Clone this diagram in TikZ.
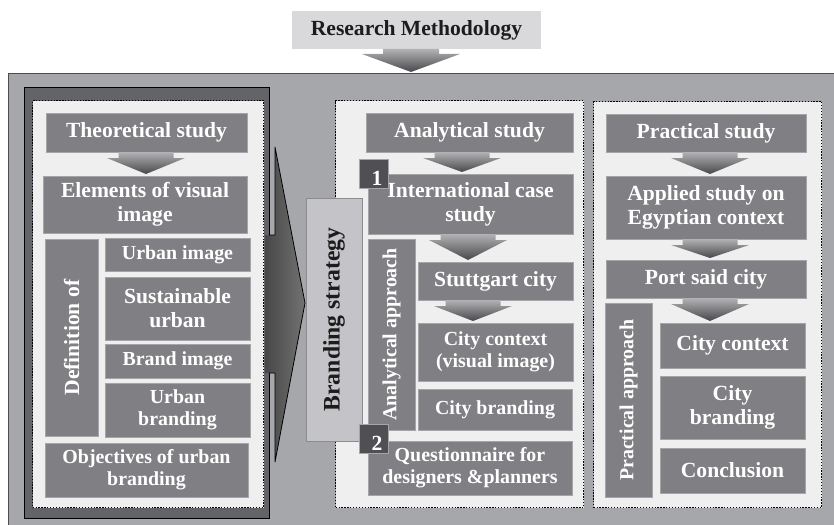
\documentclass[tikz,border=0pt]{standalone}
\usepackage{fontspec}
\setmainfont{Liberation Serif}
\usetikzlibrary{calc}
\definecolor{outerfill}{RGB}{166,167,171}
\definecolor{framefill}{RGB}{100,100,104}
\definecolor{panelfill}{RGB}{239,239,239}
\definecolor{boxfill}{RGB}{128,128,132}
\definecolor{boxline}{RGB}{165,165,168}
\definecolor{brandfill}{RGB}{196,196,200}
\definecolor{brandline}{RGB}{140,140,144}
\definecolor{titlefill}{RGB}{217,217,219}
\definecolor{darktext}{RGB}{28,28,28}
\definecolor{badgefill}{RGB}{80,80,84}
\definecolor{arrtop}{RGB}{178,178,180}
\definecolor{arrbot}{RGB}{72,72,76}
\newcommand\fsA{\fontsize{21.6}{23.8}\selectfont}
\newcommand\fsB{\fontsize{19.9}{21.9}\selectfont}
\newcommand\fsC{\fontsize{23.7}{26}\selectfont}
% box: [style]{name}{x1}{y1}{x2}{y2}{text}
\newcommand\bx[7][]{\node[box,#1,anchor=north west,minimum width={#5pt-#3pt},minimum height={#6pt-#4pt}] (#2) at (#3,#4) {#7};}
% block down arrow: {from}{to}{cx}{body half}{head half}{body height}
\newcommand\darr[6]{\shade[top color=arrtop,bottom color=arrbot]
  let \p1=(#1.south), \p2=(#2.north) in
  ({#3-#4},{\y1}) -- ({#3+#4},{\y1}) -- ({#3+#4},{\y1-#6pt}) -- ({#3+#5},{\y1-#6pt})
  -- ({#3},{\y2+2pt}) -- ({#3-#5},{\y1-#6pt}) -- ({#3-#4},{\y1-#6pt}) -- cycle;}
\begin{document}
\begin{tikzpicture}[x=1pt,y=-1pt,
  box/.style={draw=boxline,fill=boxfill,line width=0.6pt,text=white,font=\bfseries\fsA,align=center,inner sep=0pt,outer sep=0pt},
  boxs/.style={font=\bfseries\fsB},
  rotlab/.style={rotate=90,text=white,font=\bfseries\fsA,inner sep=0pt},
  panel/.style={fill=panelfill,draw=black,line width=1.3pt,dash pattern=on 1.3pt off 1.6pt},
  badge/.style={fill=badgefill,draw=boxline,line width=0.5pt,anchor=north west,minimum width=29pt,minimum height=29pt,inner sep=0pt},
  badgelab/.style={text=white,font=\bfseries\fsA,inner sep=0pt}]
\useasboundingbox (0,0) rectangle (834,524);
\clip (0,0) rectangle (834,524);
\fill[white] (0,0) rectangle (834,524);
% title
\bx[fill=titlefill,draw=none,text=darktext]{tt}{292}{11}{541}{49}{Research Methodology}
% outer panel
\node[fill=outerfill,draw=black!70,line width=1pt,anchor=north west,minimum width=900pt,minimum height=520pt,inner sep=0pt,outer sep=0pt] (outer) at (8,74) {};
\darr{tt}{outer}{411}{28}{49}{5}
% dark frame
\node[fill=framefill,draw=black,line width=1pt,anchor=north west,minimum width=245pt,minimum height=430pt,inner sep=0pt,outer sep=0pt] (frame) at (24,88) {};
% big right arrow
\shade[left color=black!72,right color=black!55] (265,235) -- (275,235) -- (275,147) -- (305,303) -- (275,462) -- (275,373) -- (265,373) -- cycle;
\draw[line width=0.8pt,line join=miter] (269,235) -- (275,235) -- (275,147) -- (305,303) -- (275,462) -- (275,373) -- (269,373);
% dotted panels
\node[panel,anchor=north west,minimum width=231pt,minimum height=407pt,inner sep=0pt] (pT) at (32,100) {};
\node[panel,anchor=north west,minimum width=248pt,minimum height=407pt,inner sep=0pt] (pA) at (335,100) {};
\node[panel,anchor=north west,minimum width=228pt,minimum height=406pt,inner sep=0pt] (pP) at (593,101) {};
% theoretical column
\bx{th}{46}{113}{247}{152}{Theoretical study}
\bx{el}{43}{176}{247}{233}{Elements of visual\\image}
\bx{def}{45}{239}{98}{436}{}
\node[rotlab] (defT) at (def.center) {Definition of};
\bx[boxs]{ui}{105}{238}{250}{271}{Urban image}
\bx{su}{105}{277}{250}{340}{Sustainable\\urban}
\bx[boxs]{bi}{105}{344}{250}{378}{Brand image}
\bx[boxs]{ub}{105}{383}{250}{437}{Urban\\branding}
\bx[boxs]{ob}{45}{443}{248}{497}{Objectives of urban\\branding}
% analytical column
\bx{an}{366}{113}{573}{152}{Analytical study}
\bx{ic}{368}{174}{573}{234}{International case\\study}
\bx{aa}{368}{239}{415}{430}{}
\node[rotlab,font=\bfseries\fsB] (aaT) at (aa.center) {Analytical approach};
\bx{st}{418}{262}{573}{300}{Stuttgart city}
\bx[boxs]{cc}{418}{323}{573}{381}{City context\\(visual image)}
\bx[boxs]{cb}{418}{389}{572}{430}{City branding}
\bx[boxs]{qu}{368}{441}{572}{495}{Questionnaire for\\designers \&planners}
% practical column
\bx{pr}{606}{114}{806}{152}{Practical study}
\bx{ap}{606}{176}{806}{239}{Applied study on\\Egyptian context}
\bx{ps}{606}{260}{806}{298}{Port said city}
\bx{pa}{605}{303}{652}{497}{}
\node[rotlab,font=\bfseries\fsB] (paT) at (pa.center) {Practical approach};
\bx{pc}{660}{323}{805}{368}{City context}
\bx{pb}{660}{376}{805}{439}{City\\branding}
\bx{co}{660}{448}{805}{493}{Conclusion}
% branding strategy
\bx[fill=brandfill,draw=brandline,line width=1pt]{bs}{306}{198}{362}{441}{}
\node[rotlab,text=darktext,font=\bfseries\fsC] (bsT) at (bs.center) {Branding strategy};
% badges
\node[badge] (b1) at (359,159) {};
\node[badgelab] (n1) at (377,178) {1};
\node[badge] (b2) at (359,424) {};
\node[badgelab] (n2) at (377,443) {2};
% down arrows
\darr{th}{el}{146}{27.5}{39}{6}
\darr{an}{ic}{462}{27.5}{39}{6}
\darr{ic}{st}{468}{27.5}{39}{6}
\darr{st}{cc}{473}{27.5}{39}{6}
\darr{pr}{ap}{710}{27.5}{39}{6}
\darr{ap}{ps}{710}{27.5}{39}{6}
\darr{ps}{pc}{710}{27.5}{39}{6}
\end{tikzpicture}
\end{document}
